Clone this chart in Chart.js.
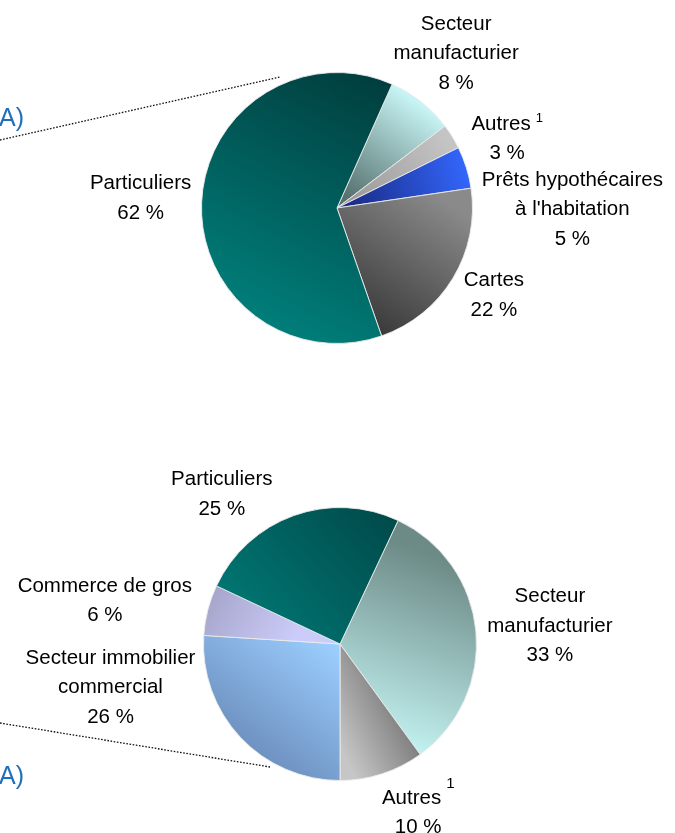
<!DOCTYPE html>
<html>
<head>
<meta charset="utf-8">
<script src="https://cdn.jsdelivr.net/npm/chart.js@4.4.1/dist/chart.umd.min.js"></script>
<style>
  html, body { margin: 0; padding: 0; background: #fff; }
  #wrap { position: relative; width: 675px; height: 833px; overflow: hidden; }
  canvas { position: absolute; left: 0; top: 0; }
</style>
</head>
<body>
<div id="wrap">
  <canvas id="topPie" width="675" height="833"></canvas>
  <canvas id="bottomPie" width="675" height="833"></canvas>
</div>
<script>
// data, clockwise from the first slice
const topLabels = [["Secteur", "manufacturier"], ["Autres"], ["Prêts hypothécaires", "à l'habitation"], ["Cartes"], ["Particuliers"]];
const topValues = [8, 3, 5, 22, 62];
const topNotes = ["", "1", "", "", ""];

const bottomLabels = [["Secteur", "manufacturier"], ["Autres"], ["Secteur immobilier", "commercial"], ["Commerce de gros"], ["Particuliers"]];
const bottomValues = [33, 10, 26, 6, 25];
const bottomNotes = ["", "1", "", "", ""];

// gradient per slice: x0,y0,x1,y1 (in radius units from centre), colour0, colour1
const topGrads = [
  [0.55, -0.8, 0.05, -0.1, "#c6f3f3", "#56726f"],
  [0.8, -0.5, 0.1, -0.05, "#c4c4c4", "#9a9a9a"],
  [1.0, -0.25, 0.1, 0.0, "#3468ff", "#1a2c88"],
  [0.95, 0.05, 0.35, 0.95, "#8a8a8a", "#3a3a3a"],
  [0.45, -0.95, -0.5, 0.9, "#003c3c", "#007f7b"]
];
const bottomGrads = [
  [0.45, 0.75, 0.95, -0.55, "#c2f1f0", "#6c8a86"],
  [0.05, 0.85, 0.65, 0.55, "#c6c6c6", "#686868"],
  [-0.1, -0.05, -0.75, 0.8, "#9ccfff", "#6a8cbb"],
  [-0.95, -0.35, -0.35, 0.0, "#a6a6cc", "#ccccfa"],
  [0.5, -1.0, -0.55, -0.05, "#004646", "#007572"]
];
// label block offsets from the slice edge midpoint
const topOffsets = [[35, -48], [55, 2], [106, 42], [41, 17], [-61, -4]];
const bottomOffsets = [[74, -5], [36, 39], [-130, -50], [-103, -9], [-72, -21]];

const FONT = '20.5px "Liberation Sans", Arial, sans-serif';
const LINE_H = 29.5;

function gradientFill(grads) {
  return (c) => {
    const a = c.chart.chartArea;
    if (!a) return "#888";
    const cx = (a.left + a.right) / 2, cy = (a.top + a.bottom) / 2;
    const r = Math.min(a.width, a.height) / 2;
    const g = grads[c.dataIndex];
    const lg = c.chart.ctx.createLinearGradient(cx + g[0] * r, cy + g[1] * r, cx + g[2] * r, cy + g[3] * r);
    lg.addColorStop(0, g[4]);
    lg.addColorStop(1, g[5]);
    return lg;
  };
}

function sliceLabels(labels, values, notes, offsets, noteFont, noteRaise) {
  return {
    id: "sliceLabels",
    afterDraw(chart) {
      const ctx = chart.ctx;
      const meta = chart.getDatasetMeta(0);
      ctx.save();
      ctx.fillStyle = "#000";
      ctx.textBaseline = "middle";
      meta.data.forEach((arc, i) => {
        const p = arc.getProps(["x", "y", "startAngle", "endAngle", "outerRadius"], true);
        const mid = (p.startAngle + p.endAngle) / 2;
        const ax = p.x + Math.cos(mid) * p.outerRadius + offsets[i][0];
        const ay = p.y + Math.sin(mid) * p.outerRadius + offsets[i][1];
        const lines = labels[i].concat([values[i] + " %"]);
        let y = ay - (lines.length - 1) * LINE_H / 2;
        lines.forEach((line, k) => {
          ctx.font = FONT;
          if (k === 0 && notes[i]) {
            const w = ctx.measureText(line).width;
            ctx.font = noteFont;
            const nw = ctx.measureText(notes[i]).width;
            const total = w + 5 + nw;
            ctx.font = FONT;
            ctx.textAlign = "left";
            ctx.fillText(line, ax - total / 2, y);
            ctx.font = noteFont;
            ctx.fillText(notes[i], ax - total / 2 + w + 5, y - noteRaise);
          } else {
            ctx.textAlign = "center";
            ctx.fillText(line, ax, y);
          }
          y += LINE_H;
        });
      });
      ctx.restore();
    }
  };
}

function leaderDecor(x0, y0, x1, y1, textY) {
  return {
    id: "leaderDecor",
    beforeDraw(chart) {
      const ctx = chart.ctx;
      ctx.save();
      ctx.strokeStyle = "#111";
      ctx.lineWidth = 1.3;
      ctx.setLineDash([1.6, 1.6]);
      ctx.beginPath();
      ctx.moveTo(x0, y0);
      ctx.lineTo(x1, y1);
      ctx.stroke();
      ctx.setLineDash([]);
      ctx.fillStyle = "#1f6fbf";
      ctx.font = '25px "Liberation Sans", Arial, sans-serif';
      ctx.textAlign = "right";
      ctx.textBaseline = "middle";
      ctx.fillText("A)", 24, textY);
      ctx.restore();
    }
  };
}

function makePie(id, labels, values, grads, rotation, padding, plugins) {
  return new Chart(document.getElementById(id), {
    type: "pie",
    data: {
      labels: labels.map((l) => l.join(" ")),
      datasets: [{
        data: values,
        backgroundColor: gradientFill(grads),
        borderColor: "rgba(235,235,235,0.9)",
        borderWidth: 1
      }]
    },
    options: {
      responsive: false,
      animation: false,
      devicePixelRatio: 1,
      rotation: rotation,
      layout: { padding: padding },
      plugins: { legend: { display: false }, tooltip: { enabled: false } }
    },
    plugins: plugins
  });
}

makePie("topPie", topLabels, topValues, topGrads, 24,
  { left: 201, right: 202, top: 72, bottom: 489 },
  [leaderDecor(0, 140, 280, 77, 119),
   sliceLabels(topLabels, topValues, topNotes, topOffsets, '13px "Liberation Sans", Arial, sans-serif', 5)]);

makePie("bottomPie", bottomLabels, bottomValues, bottomGrads, 25.2,
  { left: 203, right: 198, top: 507, bottom: 52 },
  [leaderDecor(0, 723, 270, 767, 777),
   sliceLabels(bottomLabels, bottomValues, bottomNotes, bottomOffsets, '15px "Liberation Sans", Arial, sans-serif', 14)]);
</script>
</body>
</html>
